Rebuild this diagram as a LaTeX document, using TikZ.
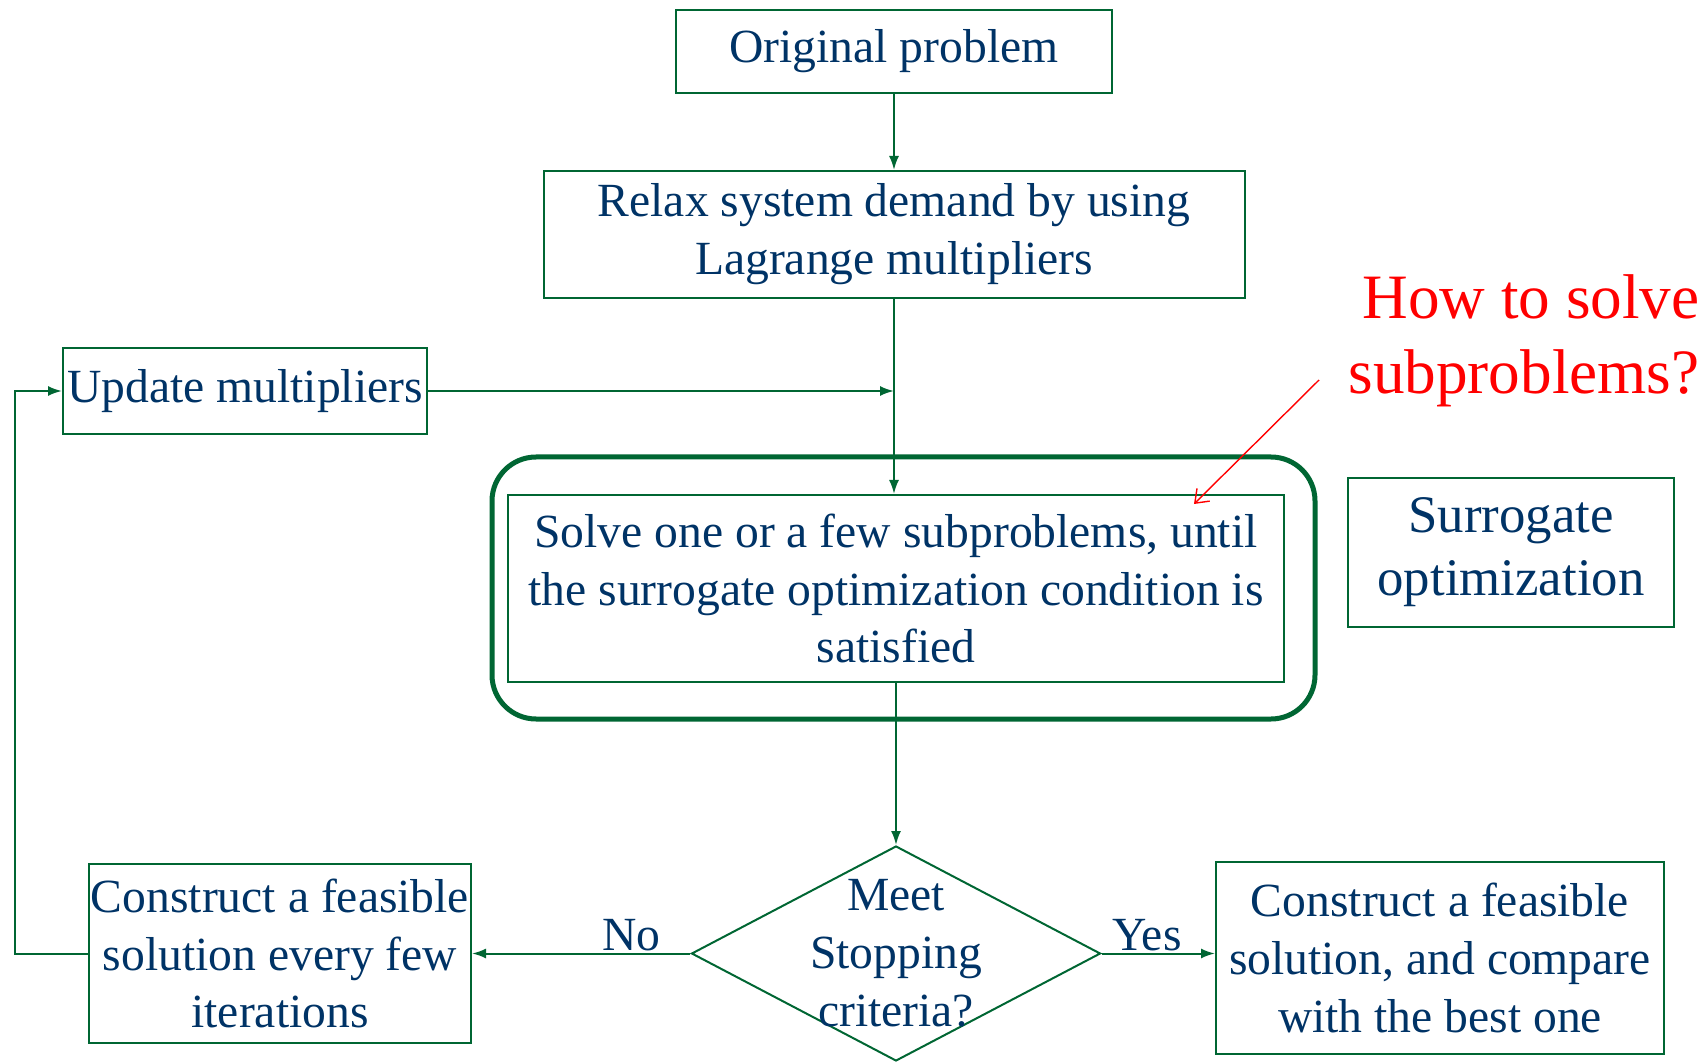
\documentclass[tikz,border=0pt]{standalone}
\usepackage{fontspec}
\setmainfont{Liberation Serif}
\usetikzlibrary{arrows.meta,shapes.geometric}
\definecolor{lgreen}{RGB}{0,102,51}
\definecolor{navy}{RGB}{0,51,102}

\begin{document}
\begin{tikzpicture}[
  x=0.5pt, y=-0.5pt,
  sbox/.style={draw=lgreen,line width=1pt,rectangle,inner sep=0pt,align=center,
    text=navy,font=\fontsize{23.8}{28.9}\selectfont},
  flow/.style={draw=lgreen,line width=1pt,-{Latex[length=7pt,width=5pt]}},
  lbl/.style={text=navy,align=center,font=\fontsize{23.8}{28.9}\selectfont,inner sep=1pt},
  hint/.style={draw=red,line width=0.7pt,-{Straight Barb[length=6pt,width=9pt]}}
]
  \useasboundingbox (0,0) rectangle (1707,1063);

  % main column
  \node[sbox,minimum width=218pt,minimum height=41.5pt] (orig) at (894,51.5) {Original problem};
  \node[sbox,minimum width=350.5pt,minimum height=63.5pt] (relax) at (894,234.5)
    {Relax system demand by using\\Lagrange multipliers};
  \node[draw=lgreen,line width=2.5pt,rounded corners=22pt,minimum width=411.5pt,
    minimum height=131pt] (surr) at (903.5,588) {};
  \node[sbox,minimum width=388pt,minimum height=93.5pt] (solve) at (896,588.5)
    {Solve one or a few subproblems, until\\the surrogate optimization condition is\\satisfied};
  \node[draw=lgreen,line width=1pt,diamond,inner sep=0pt,minimum width=204.5pt,
    minimum height=107.5pt] (stop) at (896,953.5) {};
  \node[lbl] (stoptxt) at (stop) {Meet\\Stopping\\criteria?};

  % side boxes
  \node[sbox,minimum width=182pt,minimum height=43pt] (update) at (245,391) {Update multipliers};
  \node[sbox,minimum width=191pt,minimum height=89.5pt] (feas) at (280,953.5)
    {Construct a feasible\\solution every few\\iterations};
  \node[sbox,minimum width=224pt,minimum height=96pt] (best) at (1440,958)
    {Construct a feasible\\solution, and compare\\with the best one};
  \node[sbox,minimum width=163pt,minimum height=74.5pt,
    font=\fontsize{26.4}{31.5}\selectfont] (surrlbl) at (1511,552.5)
    {Surrogate\\optimization};

  % question
  \node[anchor=east,align=right,inner sep=0pt,text=red,
    font=\fontsize{31.6}{37.5}\selectfont] (howto) at (1700,340.5)
    {How to solve\\subproblems?};
  \coordinate (redtail) at (1319,380);
  \coordinate (redtip) at (1194,504);

  % connectors
  \draw[flow] (orig) -- (relax);
  \draw[flow] (relax) -- (relax.south |- solve.north);
  \draw[flow] (update) -- (update -| relax.south);
  \draw[flow] (solve.south) -- (stop.north);
  \draw[flow] (stop) -- node[lbl,above,pos=0.27] {No} (feas);
  \draw[flow] (stop) -- node[lbl,above,pos=0.4] {Yes} (stop -| best.west);
  \draw[flow] (feas.west) -- ++(-73,0) |- (update.west);
  \draw[hint] (redtail) -- (redtip);
\end{tikzpicture}
\end{document}
